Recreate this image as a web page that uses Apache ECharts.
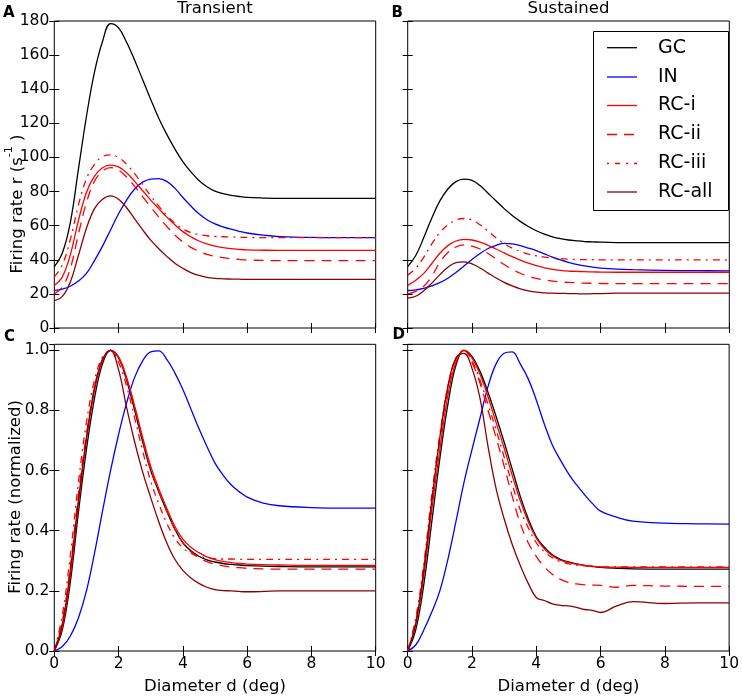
<!DOCTYPE html>
<html><head><meta charset="utf-8">
<script src="https://cdn.jsdelivr.net/npm/echarts@6/dist/echarts.min.js"></script>
<style>html,body{margin:0;padding:0;background:#fff}#c{width:742px;height:698px}</style>
</head><body><div id="c"></div>
<script>
// ---------- data ----------
const diameter = [0,0.25,0.5,0.75,1,1.25,1.5,1.75,2,2.25,2.5,2.75,3,3.25,3.5,3.75,4,4.25,4.5,4.75,5,5.25,5.5,5.75,6,6.5,7,8,9,10];
const seriesNames = ['GC','IN','RC-i','RC-ii','RC-iii','RC-all'];
const rateTicks = [0,20,40,60,80,100,120,140,160,180];
const normTicks = [0,0.2,0.4,0.6,0.8,1.0];
const diameterTicks = [0,2,4,6,8,10];

// Transient (A)
const transGC    = [36,44,62,93,124,150,168,178.5,176,167.5,157,145.5,134,123,113.5,105,97.5,91.5,86.5,82.8,80.2,78.8,77.8,77.1,76.6,76.2,76,76,76,76];
const transIN    = [22,22.8,24.5,27.5,32,39.5,48,57.5,67,75,81.5,85.5,87.3,87.6,86,82,76.5,71.5,67,63.5,61,59.3,57.9,56.7,55.7,54.4,53.6,53.1,53,53];
const transRCi   = [25,30,43,63,79.5,89,94,95.5,94.5,91,86,80.5,75,70,65,60.5,56.5,53.5,51,49.3,48,47.1,46.5,46.1,45.8,45.6,45.5,45.5,45.5,45.5];
const transRCii  = [20,24,35,55,73.5,86,92,94,92.5,88.5,83,77,71,65,59.5,54.5,50.5,47.3,45,43.2,42,41.2,40.6,40.2,39.9,39.6,39.5,39.5,39.5,39.5];
const transRCiii = [30,37,52,72,87.5,96,100.5,101.5,100,96,90.5,84,77.5,71.5,66,61.5,58,56,54.8,54.1,53.7,53.5,53.3,53.2,53.1,53,53,53,53,53];
const transRCall = [16,18.5,27,42.5,58.5,70,75.5,77.5,75.5,70.5,64,57.5,51.5,46.5,42,38,35,32.5,30.8,29.7,29.1,28.85,28.7,28.6,28.5,28.5,28.5,28.5,28.5,28.5];

// Sustained (B)
const sustGC    = [36,42.5,53,64.5,74.5,81.5,85.8,87.3,86.5,83.5,79,74.5,70,66,62.5,59.5,57,55,53.5,52.4,51.6,51.1,50.7,50.5,50.3,50.1,50,50,50,50];
const sustIN    = [22,22.4,23.3,24.7,26.6,29.2,32.5,36.3,40.2,43.7,46.6,48.5,49.6,49.3,48.3,46.9,45.4,43.5,41.6,39.9,38.5,37.3,36.4,35.7,35.1,34.5,34.2,33.8,33.6,33.5];
const sustRCi   = [25,28,32,37.8,43.8,48.3,51,52,51.6,50.3,48.5,46.3,44,41.8,39.8,38,36.5,35.3,34.4,33.8,33.4,33.2,33,32.9,32.8,32.7,32.7,32.7,32.7,32.7];
const sustRCii  = [20,21.5,24.5,30.5,38.5,44.3,47.5,48.7,48,46.3,43.7,40.4,37.2,34.4,32.1,30.4,29.1,28.2,27.5,27,26.7,26.5,26.3,26.2,26.1,26,26,26,26,26];
const sustRCiii = [31,35,41.5,49.3,56,60.5,63.3,64.2,63.2,60.5,56.8,52.8,49.4,46.8,44.8,43.3,42.3,41.6,41.1,40.7,40.4,40.2,40.1,40.05,40,40,40,40,40,40];
const sustRCall = [17.5,18.6,21.8,26.3,31.3,35.6,38.3,38.8,37.6,35.2,32.2,29.3,26.8,24.7,23,21.8,21,20.6,20.4,20.3,20.2,20.1,20,20.1,20.2,20.4,20.5,20.5,20.5,20.5];

// Transient normalized (C)
const transNormGC    = [0,0.07,0.23,0.46,0.67,0.84,0.955,1.0,0.975,0.9,0.8,0.695,0.6,0.53,0.465,0.405,0.36,0.333,0.315,0.303,0.296,0.291,0.288,0.286,0.284,0.282,0.281,0.28,0.28,0.28];
const transNormIN    = [0,0.015,0.05,0.11,0.2,0.325,0.465,0.6,0.72,0.825,0.91,0.965,0.995,0.998,0.97,0.925,0.87,0.805,0.74,0.68,0.625,0.585,0.553,0.53,0.512,0.492,0.483,0.477,0.475,0.475];
const transNormRCi   = [0,0.08,0.25,0.49,0.7,0.865,0.965,1.0,0.978,0.91,0.815,0.71,0.615,0.54,0.475,0.415,0.372,0.345,0.327,0.313,0.304,0.298,0.294,0.291,0.289,0.287,0.286,0.285,0.285,0.285];
const transNormRCii  = [0,0.1,0.28,0.52,0.72,0.875,0.97,1.0,0.975,0.905,0.81,0.7,0.605,0.53,0.465,0.405,0.36,0.33,0.31,0.297,0.289,0.283,0.279,0.277,0.275,0.273,0.272,0.272,0.272,0.272];
const transNormRCiii = [0,0.12,0.32,0.56,0.76,0.9,0.978,1.0,0.96,0.88,0.775,0.665,0.565,0.49,0.425,0.375,0.343,0.325,0.315,0.31,0.307,0.306,0.306,0.305,0.305,0.305,0.305,0.305,0.305,0.305];
const transNormRCall = [0,0.09,0.27,0.5,0.71,0.875,0.97,1.0,0.935,0.81,0.695,0.595,0.51,0.43,0.36,0.305,0.268,0.243,0.225,0.212,0.204,0.201,0.2,0.198,0.197,0.198,0.2,0.2,0.2,0.2];

// Sustained normalized (D)
const sustNormGC    = [0,0.07,0.22,0.43,0.64,0.82,0.95,1.0,0.98,0.93,0.86,0.78,0.695,0.605,0.515,0.44,0.38,0.345,0.32,0.305,0.296,0.29,0.285,0.281,0.278,0.275,0.273,0.272,0.272,0.272];
const sustNormIN    = [0,0.02,0.07,0.13,0.2,0.305,0.43,0.56,0.67,0.775,0.88,0.955,0.99,0.995,0.955,0.905,0.835,0.755,0.685,0.635,0.59,0.553,0.52,0.49,0.465,0.445,0.432,0.425,0.423,0.422];
const sustNormRCi   = [0,0.09,0.25,0.47,0.67,0.85,0.96,1.0,0.975,0.92,0.845,0.76,0.675,0.585,0.5,0.43,0.375,0.34,0.317,0.302,0.294,0.289,0.285,0.282,0.28,0.279,0.278,0.278,0.278,0.278];
const sustNormRCii  = [0,0.1,0.27,0.5,0.7,0.87,0.97,1.0,0.96,0.89,0.8,0.71,0.615,0.515,0.425,0.36,0.315,0.28,0.255,0.238,0.228,0.223,0.22,0.219,0.218,0.212,0.218,0.216,0.215,0.215];
const sustNormRCiii = [0,0.11,0.29,0.52,0.72,0.88,0.97,1.0,0.965,0.9,0.82,0.735,0.645,0.555,0.47,0.41,0.36,0.33,0.31,0.297,0.29,0.286,0.283,0.281,0.28,0.28,0.28,0.28,0.28,0.28];
const sustNormRCall = [0,0.09,0.27,0.5,0.71,0.88,0.975,0.99,0.94,0.84,0.68,0.54,0.44,0.355,0.285,0.225,0.178,0.168,0.157,0.152,0.15,0.145,0.138,0.135,0.128,0.15,0.164,0.158,0.16,0.16];

// ---------- layout / style ----------
const FONT = 'DejaVu Sans';
const panelData = [
  [transGC, transIN, transRCi, transRCii, transRCiii, transRCall],
  [sustGC, sustIN, sustRCi, sustRCii, sustRCiii, sustRCall],
  [transNormGC, transNormIN, transNormRCi, transNormRCii, transNormRCiii, transNormRCall],
  [sustNormGC, sustNormIN, sustNormRCi, sustNormRCii, sustNormRCiii, sustNormRCall]
];
const lineStyles = [
  {color:'#000000', type:'solid', dash:null},
  {color:'#0000ff', type:'solid', dash:null},
  {color:'#ff0000', type:'solid', dash:null},
  {color:'#ff0000', type:[10,7], dash:[10,7]},
  {color:'#ff0000', type:[7,5,2,5], dash:[2,6,5,6]},
  {color:'#8b0000', type:'solid', dash:null}
];
const grids = [
  {left:54.3, top:21, width:321.4, height:307},
  {left:407.7, top:21, width:321.6, height:307},
  {left:54.3, top:344.3, width:321.4, height:306.7},
  {left:407.7, top:344.3, width:321.6, height:306.7}
];
const tickStyle = {show:true, inside:true, length:5, lineStyle:{color:'#000', width:1}};
const labelStyle = {fontFamily:FONT, fontSize:15.5, color:'#000'};

const xAxes = [], yAxes = [], series = [];
grids.forEach((g, gi) => {
  const bottomRow = gi >= 2, leftCol = gi % 2 === 0;
  ['bottom','top'].forEach(pos => {
    xAxes.push({
      type:'value', gridIndex:gi, position:pos, min:diameterTicks[0], max:diameterTicks[diameterTicks.length-1],
      interval:diameterTicks[1]-diameterTicks[0],
      axisLine:{show:false}, splitLine:{show:false}, axisTick:tickStyle,
      axisLabel:Object.assign({show: pos==='bottom' && bottomRow, margin:5}, labelStyle)
    });
  });
  const ticks = gi < 2 ? rateTicks : normTicks;
  const ymax = gi < 2 ? ticks[ticks.length-1] : 1.02;
  ['left','right'].forEach(pos => {
    yAxes.push({
      type:'value', gridIndex:gi, position:pos, min:ticks[0], max:ymax,
      interval:ticks[1]-ticks[0],
      axisLine:{show:false}, splitLine:{show:false}, axisTick:tickStyle,
      axisLabel:Object.assign({show: pos==='left' && leftCol, margin:5, showMaxLabel: gi<2,
        formatter: v => gi < 2 ? String(Math.round(v)) : v.toFixed(1)}, labelStyle)
    });
  });
  panelData[gi].forEach((vals, si) => {
    series.push({
      type:'line', name:seriesNames[si], xAxisIndex:gi*2, yAxisIndex:gi*2,
      data: diameter.map((d, k) => [d, vals[k]]),
      showSymbol:false, symbol:'none', smooth:0.4, animation:false,
      lineStyle:{color:lineStyles[si].color, type:lineStyles[si].type, width:1.3},
      itemStyle:{color:lineStyles[si].color}
    });
  });
});

const txt = (text, x, y, opts) => ({type:'text', x, y, silent:true, z:10,
  style:Object.assign({text, fill:'#000', fontFamily:FONT, fontSize:16.5, align:'center', verticalAlign:'middle'}, opts||{})});

const graphics = [
  txt('Transient', 215, 9),
  txt('Sustained', 568.5, 9),
  txt('A', 3, 13.5, {align:'left', fontWeight:'bold', fontSize:15}),
  txt('B', 391.5, 13.5, {align:'left', fontWeight:'bold', fontSize:15}),
  txt('C', 4, 337.5, {align:'left', fontWeight:'bold', fontSize:15}),
  txt('D', 392.5, 335.5, {align:'left', fontWeight:'bold', fontSize:15}),
  txt('Diameter d (deg)', 215, 687),
  txt('Diameter d (deg)', 568.5, 687),
  {type:'text', x:15, y:204, rotation:Math.PI/2, silent:true, z:10,
    style:{text:'{a|Firing rate r (s}{s|-1}{a| )}', align:'center', verticalAlign:'middle', fill:'#000',
      rich:{a:{fontFamily:FONT, fontSize:16.5, fill:'#000', verticalAlign:'bottom', lineHeight:22},
            s:{fontFamily:FONT, fontSize:11, fill:'#000', verticalAlign:'top', lineHeight:22}}}},
  {type:'text', x:16, y:497, rotation:Math.PI/2, silent:true, z:10,
    style:{text:'Firing rate (normalized)', align:'center', verticalAlign:'middle', fill:'#000', fontFamily:FONT, fontSize:16.5}},
  // legend box
  {type:'rect', shape:{x:593.5, y:31.5, width:135, height:179}, silent:true, z:20,
    style:{fill:'#fff', stroke:'#000', lineWidth:1}}
];
const legendY = [47.7, 77, 105.5, 134.5, 163.5, 192];
seriesNames.forEach((nm, i) => {
  graphics.push({type:'line', silent:true, z:21,
    shape:{x1:607, y1:legendY[i], x2:637, y2:legendY[i]},
    style:{stroke:lineStyles[i].color, lineWidth:1.3, lineDash:lineStyles[i].dash}});
  const t = txt(nm, 658, legendY[i], {align:'left', fontSize:19});
  t.z = 21;
  graphics.push(t);
});

const chart = echarts.init(document.getElementById('c'), null, {renderer:'canvas'});
chart.setOption({
  animation:false,
  backgroundColor:'#ffffff',
  grid: grids.map(g => Object.assign({show:true, borderColor:'#000', borderWidth:1, backgroundColor:'transparent', containLabel:false}, g)),
  xAxis:xAxes, yAxis:yAxes, series,
  graphic:graphics
});
</script></body></html>
